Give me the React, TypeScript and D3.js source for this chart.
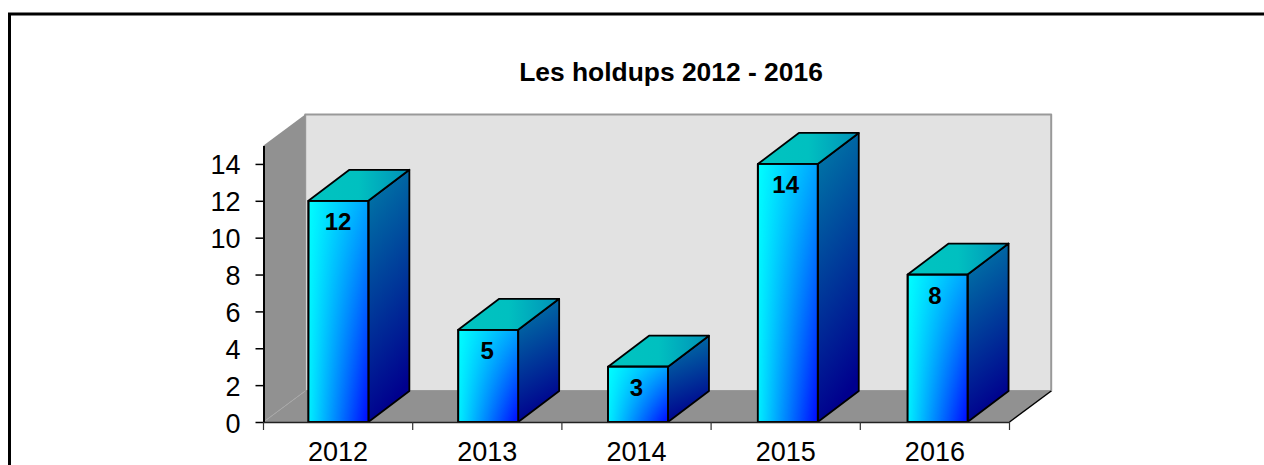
import React, { useEffect, useRef } from "react";
import * as d3 from "d3";

const years = ["2012", "2013", "2014", "2015", "2016"];
const holdups = [12, 5, 3, 14, 8];
const yTicks = [0, 2, 4, 6, 8, 10, 12, 14];
const title = "Les holdups 2012 - 2016";

const FONT = "'Liberation Sans', Arial, sans-serif";

const App = () => {
  const ref = useRef<SVGSVGElement>(null);

  useEffect(() => {
    const svg = d3.select(ref.current);
    svg.selectAll("*").remove();

    // 3D depth of the walls and of the bars
    const dx = 41.7;
    const barDx = 41;
    const dy = -31;

    // Labels and ticks follow the axis, the bars sit on a slightly wider step
    const x = d3
      .scaleBand()
      .domain(years)
      .range([263.5, 1009.5])
      .paddingInner(0.6)
      .paddingOuter(0.3);
    const xBar = d3
      .scaleBand()
      .domain(years)
      .range([263.5, 1012.5])
      .paddingInner(0.6)
      .paddingOuter(0.3);
    const y = d3.scaleLinear().domain([0, 15]).range([422, 145.5]);

    const [x0, x1] = x.range();
    const [y0, y1] = y.range();
    const line = d3.line();

    const defs = svg.append("defs");
    const gradient = (id, stops, x2, y2) => {
      const g = defs
        .append("linearGradient")
        .attr("id", id)
        .attr("x1", 0)
        .attr("y1", 0)
        .attr("x2", x2)
        .attr("y2", y2);
      stops.forEach((c, i) =>
        g
          .append("stop")
          .attr("offset", i / (stops.length - 1))
          .attr("stop-color", c)
      );
    };
    // Front face: the left edge stays cyan, the right edge darkens downwards
    gradient("frontTop", ["#00ffff", "#00a4ff"], 1, 0);
    gradient("frontBottom", ["#00f0ff", "#0008ff"], 1, 0);
    gradient("fade", ["#000", "#fff"], 0, 1);
    defs
      .append("mask")
      .attr("id", "frontMask")
      .attr("maskContentUnits", "objectBoundingBox")
      .append("rect")
      .attr("width", 1)
      .attr("height", 1)
      .attr("fill", "url(#fade)");
    gradient("side", ["#007ea8", "#00008e"], 0.2, 1);
    gradient("top", ["#00c4c0", "#00c0c0", "#0090b8"], 1, 0);

    // Page frame, runs off the right and bottom of the picture
    svg
      .append("rect")
      .attr("x", 9.5)
      .attr("y", 14)
      .attr("width", 1400)
      .attr("height", 600)
      .attr("fill", "#fff")
      .attr("stroke", "#000")
      .attr("stroke-width", 3);

    svg
      .append("text")
      .attr("x", 671)
      .attr("y", 81)
      .attr("text-anchor", "middle")
      .attr("font-family", FONT)
      .attr("font-weight", "bold")
      .attr("font-size", 26.4)
      .text(title);

    // Walls and floor
    const poly = (pts, fill, stroke = "none", w = 1) =>
      svg
        .append("path")
        .attr("d", line(pts) + "Z")
        .attr("fill", fill)
        .attr("stroke", stroke)
        .attr("stroke-width", w)
        .attr("stroke-linejoin", "round");

    poly(
      [
        [x0 + dx, y1 + dy],
        [x1 + dx, y1 + dy],
        [x1 + dx, y0 + dy],
        [x0 + dx, y0 + dy],
      ],
      "#e2e2e2",
      "#999",
      2
    );
    poly(
      [
        [x0, y1],
        [x0 + dx, y1 + dy],
        [x0 + dx, y0 + dy],
        [x0, y0],
      ],
      "#919191"
    );
    poly(
      [
        [x0, y0],
        [x0 + dx, y0 + dy],
        [x1 + dx, y0 + dy],
        [x1, y0],
      ],
      "#919191"
    );
    svg
      .append("path")
      .attr("d", line([[x0, y0], [x0 + dx, y0 + dy]]))
      .attr("stroke", "#a8a8a8")
      .attr("fill", "none");
    svg
      .append("path")
      .attr("d", line([[x1, y0], [x1 + dx, y0 + dy]]))
      .attr("stroke", "#000")
      .attr("stroke-width", 1.5)
      .attr("fill", "none");

    // Bars
    const bars = svg
      .selectAll("g.bar")
      .data(years.map((year, i) => ({ year, value: holdups[i] })))
      .enter()
      .append("g")
      .attr("class", "bar")
      .attr("stroke", "#000")
      .attr("stroke-width", 1.8)
      .attr("stroke-linejoin", "round");

    const left = (d) => xBar(d.year);
    const right = (d) => xBar(d.year) + xBar.bandwidth();

    bars
      .append("path")
      .attr("fill", "url(#side)")
      .attr("d", (d) =>
        line([
          [right(d), y(d.value)],
          [right(d) + barDx, y(d.value) + dy],
          [right(d) + barDx, y0 + dy],
          [right(d), y0],
        ]) + "Z"
      );
    bars
      .append("path")
      .attr("fill", "url(#top)")
      .attr("d", (d) =>
        line([
          [left(d), y(d.value)],
          [left(d) + barDx, y(d.value) + dy],
          [right(d) + barDx, y(d.value) + dy],
          [right(d), y(d.value)],
        ]) + "Z"
      );
    const front = (sel) =>
      sel
        .attr("x", left)
        .attr("y", (d) => y(d.value))
        .attr("width", xBar.bandwidth())
        .attr("height", (d) => y0 - y(d.value));
    bars.append("rect").call(front).attr("fill", "url(#frontTop)");
    bars
      .append("rect")
      .call(front)
      .attr("fill", "url(#frontBottom)")
      .attr("stroke", "none")
      .attr("mask", "url(#frontMask)");
    bars
      .append("rect")
      .call(front)
      .attr("fill", "none");

    bars
      .append("text")
      .attr("x", (d) => x(d.year) + x.bandwidth() / 2)
      .attr("y", (d) => y(d.value) + 29)
      .attr("text-anchor", "middle")
      .attr("stroke", "none")
      .attr("fill", "#000")
      .attr("font-family", FONT)
      .attr("font-weight", "bold")
      .attr("font-size", 24)
      .text((d) => d.value);

    // Axes
    const yAxis = svg
      .append("g")
      .attr("transform", `translate(${x0},0)`)
      .call(d3.axisLeft(y).tickValues(yTicks).tickSize(8).tickSizeOuter(0).tickPadding(15));
    yAxis.select(".domain").attr("stroke-width", 2);
    yAxis.selectAll("line").attr("stroke-width", 1.5);
    yAxis
      .selectAll("text")
      .attr("dy", "0.37em")
      .attr("font-family", FONT)
      .attr("font-size", 27)
      .attr("fill", "#000");

    const xAxis = svg
      .append("g")
      .attr("transform", `translate(0,${y0})`)
      .call(d3.axisBottom(x).tickSize(0).tickSizeOuter(0).tickPadding(20));
    xAxis.select(".domain").attr("stroke-width", 1.5).attr("stroke", "#222");
    xAxis
      .selectAll("text")
      .attr("font-family", FONT)
      .attr("font-size", 27)
      .attr("fill", "#000");

    // Ticks sit between the categories
    svg
      .append("g")
      .selectAll("line")
      .data(d3.range(years.length + 1))
      .enter()
      .append("line")
      .attr("x1", (i) => x0 + i * x.step())
      .attr("x2", (i) => x0 + i * x.step())
      .attr("y1", y0)
      .attr("y2", y0 + 8)
      .attr("stroke", "#333")
      .attr("stroke-width", 1.2);
  }, []);

  return (
    <svg
      ref={ref}
      width={1264}
      height={465}
      style={{ position: "absolute", left: 0, top: 0, display: "block" }}
    />
  );
};

export default App;
